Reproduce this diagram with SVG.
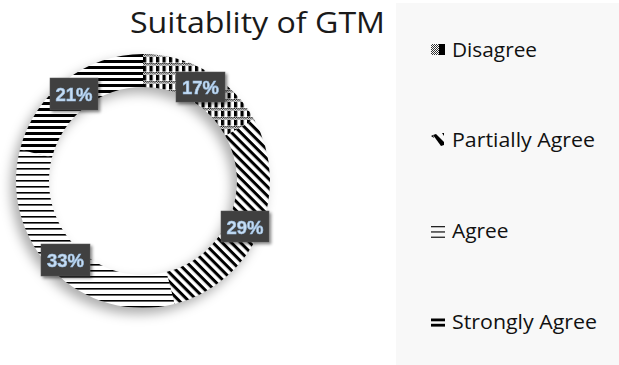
<svg xmlns="http://www.w3.org/2000/svg" width="619" height="365" viewBox="0 0 619 365">
<style>
.title{font-family:"Open Sans","Liberation Sans",sans-serif;font-size:29px;fill:#1a1a1a}
.leg{font-family:"Open Sans","Liberation Sans",sans-serif;font-size:20px;fill:#111}
.lbl{font-family:"Liberation Sans","Open Sans",sans-serif;font-weight:bold;font-size:19px;fill:#c9def3;stroke:#9cc0e4;stroke-width:0.6}
.box{fill:#3f3f3f;stroke:#555;stroke-width:0.5}
</style>
<defs>
<pattern id="chk" width="2" height="2" patternUnits="userSpaceOnUse">
<rect width="2" height="2" fill="#fff"/>
<rect width="1" height="1" fill="#000"/>
<rect x="1" y="1" width="1" height="1" fill="#000"/>
</pattern>
<pattern id="pDis" width="6.5" height="9" patternUnits="userSpaceOnUse">
<rect width="6.5" height="9" fill="#fff"/>
<rect width="6.5" height="2.5" fill="url(#chk)"/>
<rect x="0" y="3" width="3.2" height="5.5" fill="#000"/>
</pattern>
<pattern id="pPar" width="6.5" height="6.5" patternUnits="userSpaceOnUse" patternTransform="rotate(45)">
<rect width="6.5" height="6.5" fill="#fff"/>
<rect width="6.5" height="3" fill="#000"/>
</pattern>
<pattern id="pAgr" width="8" height="6" patternUnits="userSpaceOnUse">
<rect width="8" height="6" fill="#fff"/>
<rect width="8" height="1.6" fill="#000"/>
</pattern>
<pattern id="pStr" width="8" height="6" patternUnits="userSpaceOnUse">
<rect width="8" height="6" fill="#fff"/>
<rect width="8" height="3" fill="#000"/>
</pattern>
<filter id="sh" x="-30%" y="-30%" width="160%" height="160%">
<feGaussianBlur stdDeviation="6"/>
</filter>
<filter id="bsh" x="-20%" y="-20%" width="150%" height="150%">
<feDropShadow dx="2" dy="2" stdDeviation="1.5" flood-color="#000" flood-opacity="0.45"/>
</filter>
</defs>
<rect width="619" height="365" fill="#fff"/>
<text class="title" x="130" y="33" textLength="255" lengthAdjust="spacingAndGlyphs">Suitablity of GTM</text>
<g id="chart">
<path d="M138,60 a127,127 0 1,0 0.01,0 Z M138,93 a94,94 0 1,1 -0.01,0 Z" fill="#000" fill-opacity="0.32" fill-rule="evenodd" filter="url(#sh)"/>
<g id="seg-disagree"><path d="M143,54 A127,127 0 0 1 254.29,119.82 L225.37,135.72 A94,94 0 0 0 143,87 Z" fill="url(#pDis)"/></g>
<g id="seg-partially"><path d="M254.29,119.82 A127,127 0 0 1 174.58,304.01 L166.38,272.05 A94,94 0 0 0 225.37,135.72 Z" fill="url(#pPar)"/></g>
<g id="seg-agree"><path d="M174.58,304.01 A127,127 0 0 1 19.99,149.42 L51.95,157.62 A94,94 0 0 0 166.38,272.05 Z" fill="url(#pAgr)"/></g>
<g id="seg-strongly"><path d="M19.99,149.42 A127,127 0 0 1 143,54 L143,87 A94,94 0 0 0 51.95,157.62 Z" fill="url(#pStr)"/></g>
</g>
<g id="labels">
<g id="lbl-17" filter="url(#bsh)"><rect class="box" x="176" y="72" width="49" height="30"/><text class="lbl" x="200.5" y="94" text-anchor="middle" textLength="37" lengthAdjust="spacingAndGlyphs">17%</text></g>
<g id="lbl-29" filter="url(#bsh)"><rect class="box" x="221" y="211" width="48" height="31"/><text class="lbl" x="245" y="233.5" text-anchor="middle" textLength="37" lengthAdjust="spacingAndGlyphs">29%</text></g>
<g id="lbl-33" filter="url(#bsh)"><rect class="box" x="41" y="244" width="49" height="32"/><text class="lbl" x="65.5" y="267" text-anchor="middle" textLength="37" lengthAdjust="spacingAndGlyphs">33%</text></g>
<g id="lbl-21" filter="url(#bsh)"><rect class="box" x="50" y="78" width="48" height="32"/><text class="lbl" x="74" y="101" text-anchor="middle" textLength="37" lengthAdjust="spacingAndGlyphs">21%</text></g>
</g>
<g id="legend">
<rect x="396" y="3" width="223" height="362" fill="#f8f8f8"/>
<g id="leg-disagree">
<rect x="431" y="44" width="8" height="11" fill="url(#chk)" opacity="0.8"/>
<rect x="439" y="44" width="6" height="11" fill="#000"/>
<text class="leg" x="452" y="57" textLength="85" lengthAdjust="spacingAndGlyphs">Disagree</text>
</g>
<g id="leg-partially">
<path d="M433,135 L436,134 L444,142 L444,145 L441,146 Z" fill="#000"/>
<path d="M442,133 L444,133 L444,136 Z" fill="#000"/>
<path d="M431,136 L433,135 L434,138 Z" fill="#000"/>
<text class="leg" x="452" y="147" textLength="143" lengthAdjust="spacingAndGlyphs">Partially Agree</text>
</g>
<g id="leg-agree">
<rect x="431" y="226" width="14" height="1.3" fill="#222"/>
<rect x="431" y="231.3" width="14" height="1.3" fill="#222"/>
<rect x="431" y="236.6" width="14" height="1.3" fill="#222"/>
<text class="leg" x="452" y="238" textLength="56.5" lengthAdjust="spacingAndGlyphs">Agree</text>
</g>
<g id="leg-strongly">
<rect x="431" y="318.5" width="14" height="2.8" fill="#000"/>
<rect x="431" y="323.8" width="14" height="2.8" fill="#000"/>
<text class="leg" x="452" y="328.5" textLength="145" lengthAdjust="spacingAndGlyphs">Strongly Agree</text>
</g>
</g>
</svg>
